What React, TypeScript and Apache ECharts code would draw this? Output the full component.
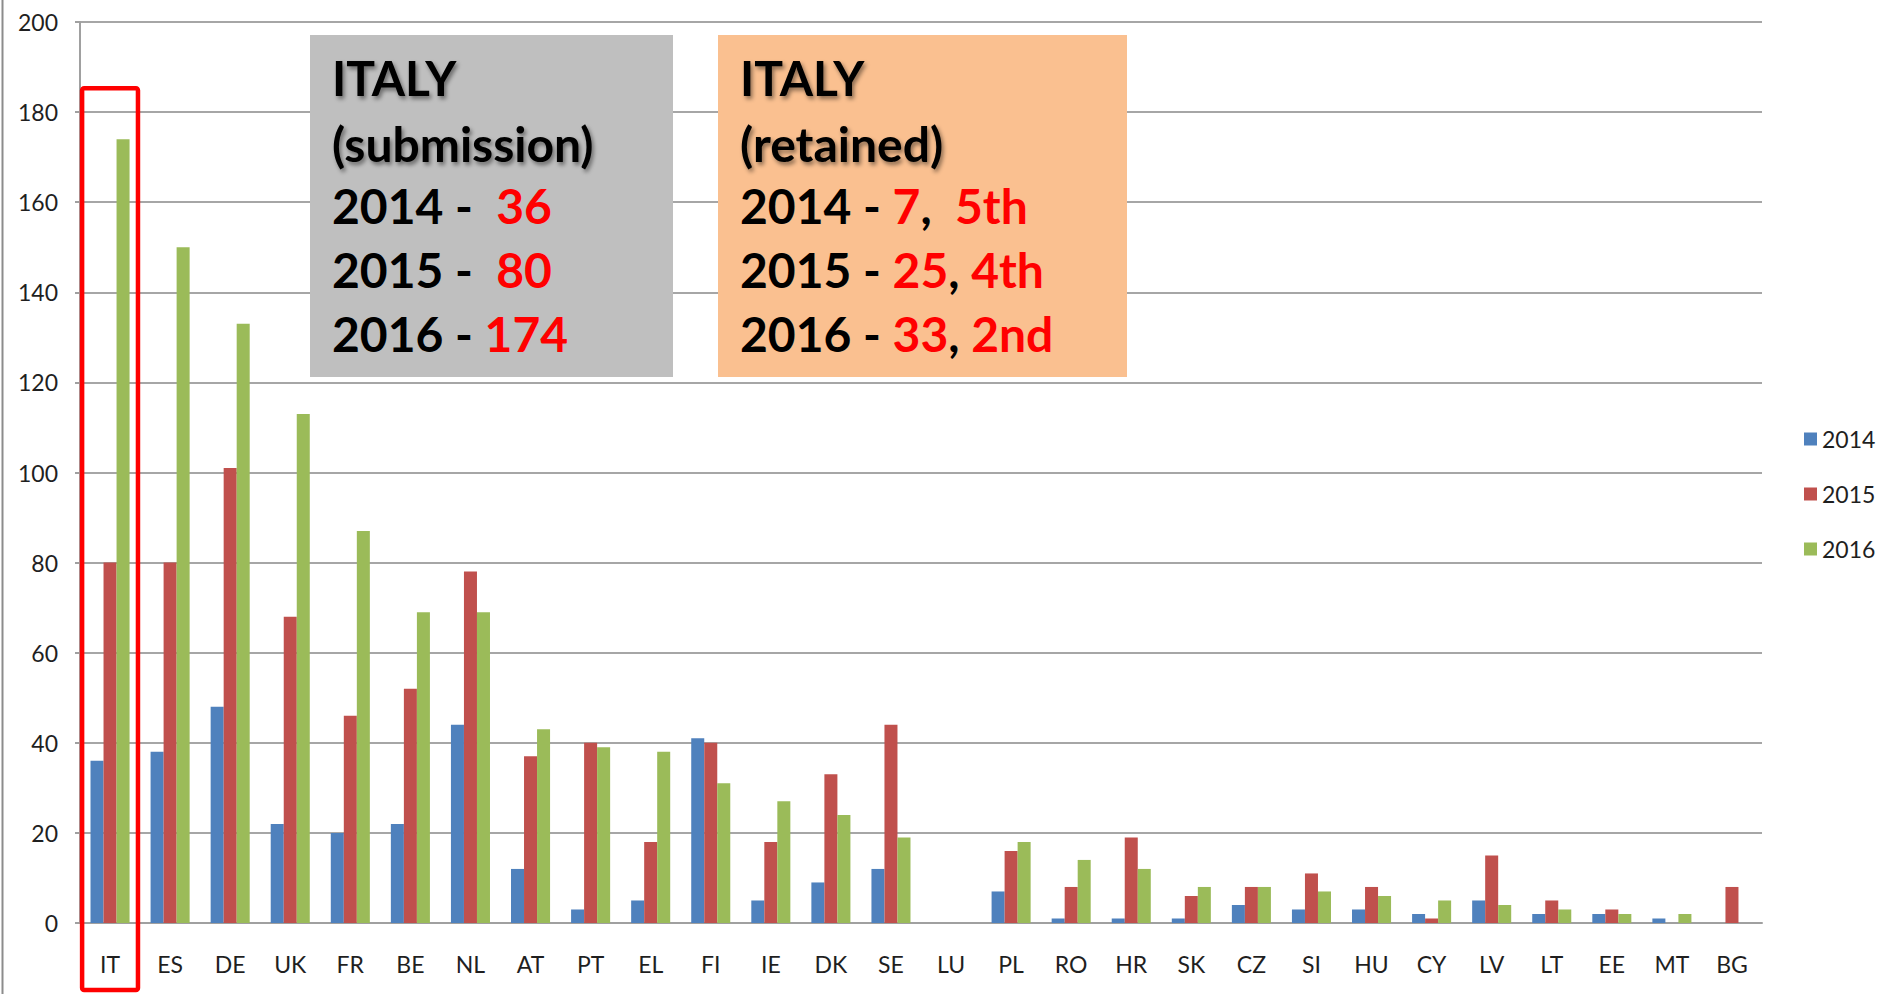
import React, { useEffect, useRef } from "react";
import * as echarts from "echarts";

const categories = ["IT","ES","DE","UK","FR","BE","NL","AT","PT","EL","FI","IE","DK","SE","LU","PL","RO","HR","SK","CZ","SI","HU","CY","LV","LT","EE","MT","BG"];
const values2014 = [36,38,48,22,20,22,44,12,3,5,41,5,9,12,0,7,1,1,1,4,3,3,2,5,2,2,1,0];
const values2015 = [80,80,101,68,46,52,78,37,40,18,40,18,33,44,0,16,8,19,6,8,11,8,1,15,5,3,0,8];
const values2016 = [174,150,133,113,87,69,69,43,39,38,31,27,24,19,0,18,14,12,8,8,7,6,5,4,3,2,2,0];
const seriesNames = ["2014","2015","2016"];
const yTicks = { min: 0, max: 200, interval: 20 };

const submissionLines = [
  [["2014 -  ", "k"], ["36", "r"]],
  [["2015 -  ", "k"], ["80", "r"]],
  [["2016 - ", "k"], ["174", "r"]],
];
const retainedLines = [
  [["2014 - ", "k"], ["7", "r"], [",  ", "k"], ["5th", "r"]],
  [["2015 - ", "k"], ["25", "r"], [", ", "k"], ["4th", "r"]],
  [["2016 - ", "k"], ["33", "r"], [", ", "k"], ["2nd", "r"]],
];

const FONT = "Lato";
const BOXFONT = 48;

function richText(parts: string[][]) {
  return parts.map(([t, c]) => `{${c}|${t}}`).join("");
}

const richStyles = {
  k: { fontFamily: FONT, fontWeight: "bold", fontSize: BOXFONT, fill: "#000000", color: "#000000" },
  r: { fontFamily: FONT, fontWeight: "bold", fontSize: BOXFONT, fill: "#FF0000", color: "#FF0000" },
};

function makeBox(x: number, y: number, w: number, h: number, color: string, title2: string, lines: string[][][]) {
  const children: any[] = [
    { type: "rect", shape: { x: 0, y: 0, width: w, height: h }, style: { fill: color } },
  ];
  const tx = 22;
  const centers = [77, 143, 205, 269, 333];
  const heads = ["ITALY", title2];
  heads.forEach((t, i) => {
    children.push({
      type: "text",
      x: tx,
      y: centers[i] - y,
      style: {
        text: t,
        fontFamily: FONT,
        fontWeight: "bold",
        fontSize: BOXFONT,
        fill: "#000000",
        textVerticalAlign: "middle",
        verticalAlign: "middle",
        textShadowColor: "rgba(0,0,0,0.45)",
        textShadowBlur: 4,
        textShadowOffsetX: 2,
        textShadowOffsetY: 3,
      },
    });
  });
  lines.forEach((parts, i) => {
    children.push({
      type: "text",
      x: tx,
      y: centers[i + 2] - y,
      style: {
        text: richText(parts),
        rich: richStyles,
        verticalAlign: "middle",
        textVerticalAlign: "middle",
      },
    });
  });
  return { type: "group", x, y, children };
}

export default function App() {
  const ref = useRef<HTMLDivElement>(null);
  useEffect(() => {
    if (!ref.current) return;
    const chart = echarts.init(ref.current, null, { renderer: "svg" });
    const colors = ["#4F81BD", "#C0504D", "#9BBB59"];
    const data = [values2014, values2015, values2016];
    const gridLeft = 80;
    const gridRight = 133;
    const gridTop = 22;
    const gridBottom = 71;
    chart.setOption({
      animation: false,
      backgroundColor: "#ffffff",
      color: colors,
      grid: { left: gridLeft, right: gridRight, top: gridTop, bottom: gridBottom, containLabel: false },
      legend: {
        orient: "vertical",
        left: 1799,
        top: 422,
        itemWidth: 13,
        itemHeight: 13,
        itemGap: 31,
        icon: "rect",
        data: seriesNames,
        textStyle: { fontFamily: FONT, fontSize: 23, color: "#1F1F1F", lineHeight: 24 },
      },
      xAxis: {
        type: "category",
        data: categories,
        axisLine: { show: true, lineStyle: { color: "#A0A0A0", width: 2 } },
        axisTick: { show: false },
        axisLabel: { fontFamily: FONT, fontSize: 23, color: "#1F1F1F", margin: 29, interval: 0 },
      },
      yAxis: {
        type: "value",
        min: yTicks.min,
        max: yTicks.max,
        interval: yTicks.interval,
        axisLine: { show: true, lineStyle: { color: "#A0A0A0", width: 2 } },
        axisTick: { show: true, length: 5, lineStyle: { color: "#A0A0A0", width: 2 } },
        splitLine: { show: true, lineStyle: { color: "#A6A6A6", width: 2 } },
        axisLabel: { fontFamily: FONT, fontSize: 23, color: "#1F1F1F", margin: 22 },
      },
      series: seriesNames.map((name, i) => ({
        name,
        type: "bar",
        data: data[i],
        barGap: "0%",
        barCategoryGap: "35%",
        itemStyle: { color: colors[i] },
      })),
    });

    const cx = chart.convertToPixel({ xAxisIndex: 0 }, "IT") as number;
    const band = (1895 - gridLeft - gridRight) / categories.length;
    const topY = chart.convertToPixel({ yAxisIndex: 0 }, 185.3) as number;
    const rw = band * 0.93;

    chart.setOption({
      graphic: [
        { type: "line", shape: { x1: 2.5, y1: 0, x2: 2.5, y2: 994 }, style: { stroke: "#8C8C8C", lineWidth: 2 } },
        makeBox(310, 35, 363, 342, "#BFBFBF", "(submission)", submissionLines),
        makeBox(718, 35, 409, 342, "#FAC090", "(retained)", retainedLines),
        {
          type: "rect",
          shape: { x: cx - rw / 2, y: topY, width: rw, height: 990 - topY, r: 2 },
          style: { fill: "none", stroke: "#FF0000", lineWidth: 4.5 },
          z: 100,
        },
      ],
    });
    return () => chart.dispose();
  }, []);
  return (
    <div
      ref={ref}
      style={{ position: "absolute", left: 0, top: 0, width: 1895, height: 994, background: "#fff" }}
    />
  );
}
